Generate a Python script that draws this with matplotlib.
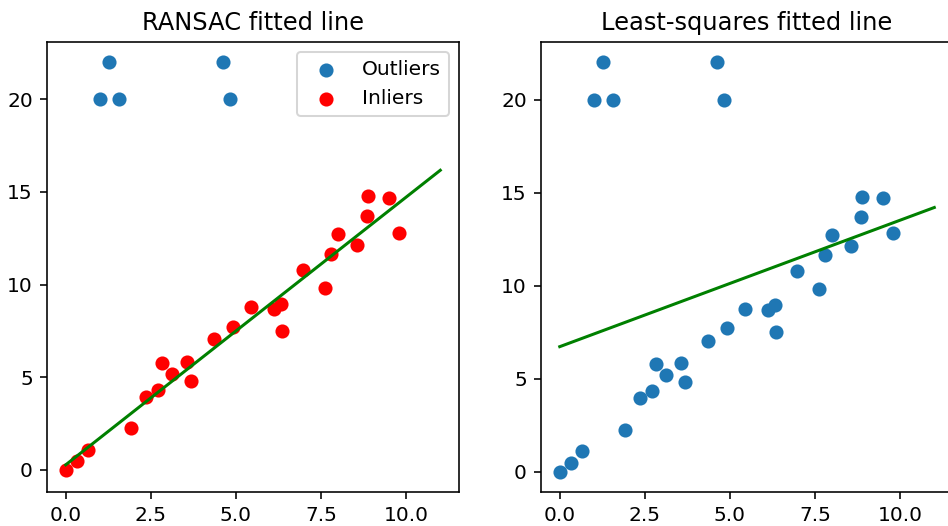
import matplotlib
matplotlib.use("Agg")
import matplotlib.pyplot as plt
import numpy as np

# inlier points
inlier_x = [0.0, 0.33, 0.65, 1.93, 2.36, 2.70, 2.82, 3.12, 3.56, 3.69,
            4.35, 4.91, 5.44, 6.12, 6.32, 6.35, 6.98, 7.60, 7.80, 8.00,
            8.56, 8.84, 8.87, 9.48, 9.80]
inlier_y = [0.0, 0.45, 1.08, 2.25, 3.95, 4.32, 5.78, 5.17, 5.84, 4.79,
            7.03, 7.73, 8.76, 8.70, 8.96, 7.51, 10.81, 9.80, 11.66, 12.74,
            12.12, 13.69, 14.76, 14.69, 12.81]

# outliers
outlier_x = [1.01, 1.27, 1.57, 4.62, 4.82]
outlier_y = [20.0, 22.0, 20.0, 22.0, 20.0]

line_x = np.array([0.0, 11.0])

x_all = np.array(inlier_x + outlier_x)
y_all = np.array(inlier_y + outlier_y)

# RANSAC final model = least squares on the inliers
p_ransac = np.poly1d(np.polyfit(inlier_x, inlier_y, 1))
p_ls = np.poly1d(np.polyfit(x_all, y_all, 1))

dpi = 145
fig = plt.figure(figsize=(948 / dpi, 526 / dpi), dpi=dpi)
ax1 = fig.add_axes([0.0496, 0.0646, 0.4346, 0.8555])
ax2 = fig.add_axes([0.5707, 0.0646, 0.4346, 0.8555])

ax1.scatter(outlier_x, outlier_y, label='Outliers')
ax1.scatter(inlier_x, inlier_y, c='red', label='Inliers')
ax1.plot(line_x, p_ransac(line_x), c='green')
ax1.set_title('RANSAC fitted line')
ax1.legend(loc='upper right')
ax1.set_ylim(-1.21, 23.1)

ax2.scatter(x_all, y_all)
ax2.plot(line_x, p_ls(line_x), c='green')
ax2.set_title('Least-squares fitted line')

for ax in (ax1, ax2):
    ax.set_xticks([0.0, 2.5, 5.0, 7.5, 10.0])
    ax.set_yticks([0, 5, 10, 15, 20])

fig.savefig('out.png', dpi=dpi)
